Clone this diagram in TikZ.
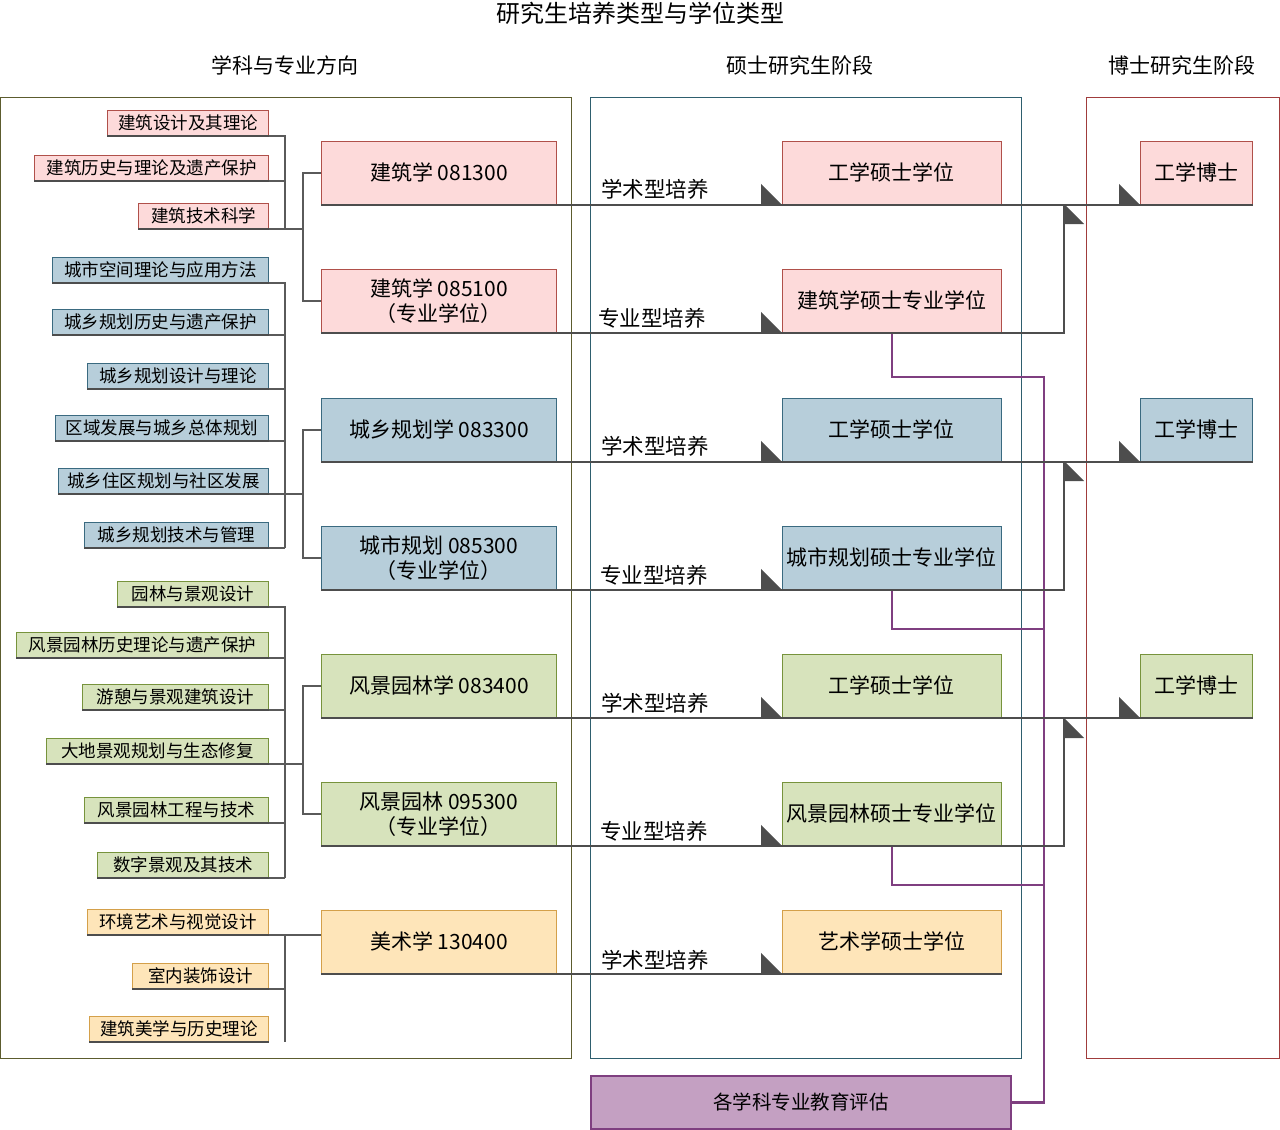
\documentclass[tikz,border=0pt]{standalone}
\usepackage{fontspec}
\setmainfont{Noto Sans CJK SC}
\definecolor{pinkF}{HTML}{FDDADA}
\definecolor{pinkB}{HTML}{B0504A}
\definecolor{blueF}{HTML}{B7CEDA}
\definecolor{blueB}{HTML}{3A6A80}
\definecolor{greenF}{HTML}{D7E3BC}
\definecolor{greenB}{HTML}{77933C}
\definecolor{orangeF}{HTML}{FEE5B9}
\definecolor{orangeB}{HTML}{D4A04A}
\definecolor{purpleF}{HTML}{C4A0C2}
\definecolor{purpleB}{HTML}{7F3F80}
\definecolor{flowgray}{HTML}{4D4D4D}
\definecolor{conngray}{HTML}{5A5A5A}
\definecolor{panelL}{HTML}{5C5C2E}
\definecolor{panelM}{HTML}{2E5E6E}
\definecolor{panelR}{HTML}{A03C3C}
\tikzset{
  sub/.style={rectangle, inner sep=0pt, minimum height=25pt, anchor=south east,
    font=\fontsize{17.5}{19}\selectfont, line width=0.8pt},
  subP/.style={sub, fill=pinkF, draw=pinkB},
  subB/.style={sub, fill=blueF, draw=blueB},
  subG/.style={sub, fill=greenF, draw=greenB},
  subO/.style={sub, fill=orangeF, draw=orangeB},
  mainbox/.style={rectangle, inner sep=2pt, minimum width=235pt, minimum height=63pt,
    anchor=north west, align=center, font=\fontsize{21}{25}\selectfont, line width=0.8pt},
  masterbox/.style={rectangle, inner sep=1pt, minimum width=219pt, minimum height=63pt,
    anchor=north west, align=center, font=\fontsize{21}{25}\selectfont, line width=0.8pt},
  phdbox/.style={rectangle, inner sep=1pt, minimum width=112pt, minimum height=63pt,
    anchor=north west, align=center, font=\fontsize{21}{25}\selectfont, line width=0.8pt},
  boxP/.style={fill=pinkF, draw=pinkB},
  boxB/.style={fill=blueF, draw=blueB},
  boxG/.style={fill=greenF, draw=greenB},
  boxO/.style={fill=orangeF, draw=orangeB},
  lab/.style={font=\fontsize{21.5}{24}\selectfont, inner sep=0pt},
  head/.style={font=\fontsize{21}{24}\selectfont, inner sep=0pt},
  flow/.style={draw=flowgray, line width=2.6pt},
  subedge/.style={draw=flowgray, line width=2.4pt},
  conn/.style={draw=conngray, line width=1.6pt},
  tri/.style={fill=flowgray},
  evalline/.style={draw=purpleB, line width=2.6pt},
}
\begin{document}
\begin{tikzpicture}[x=1pt, y=-1pt]
\useasboundingbox (0,0) rectangle (1280,1130);

% headings
\node[font=\fontsize{24}{26}\selectfont, inner sep=0pt] (title) at (640,13) {研究生培养类型与学位类型};
\node[head] (h1) at (285,65) {学科与专业方向};
\node[head] (h2) at (800,65) {硕士研究生阶段};
\node[head] (h3) at (1182,65) {博士研究生阶段};

% panels
\draw[panelL, line width=1pt] (0.5,97) rectangle (571,1058);
\draw[panelM, line width=1pt] (590,97) rectangle (1021,1058);
\draw[panelR, line width=1pt] (1086,97) rectangle (1279,1058);

% bus coordinates
\coordinate (bus) at (285,0);
\coordinate (br) at (303,0);

% ---------- group A (pink) ----------
\node[subP, minimum width=161pt] (a1) at (269,136) {建筑设计及其理论};
\node[subP, minimum width=234pt] (a2) at (269,181) {建筑历史与理论及遗产保护};
\node[subP, minimum width=130pt] (a3) at (269,229) {建筑技术科学};

\node[mainbox, boxP] (A1) at (321,141) {建筑学 081300};
\node[mainbox, boxP] (A2) at (321,269) {建筑学 085100\\（专业学位）};
\node[masterbox, boxP] (MA1) at (782,141) {工学硕士学位};
\node[masterbox, boxP] (MA2) at (782,269) {建筑学硕士专业学位};
\node[phdbox, boxP] (PA1) at (1140,141) {工学博士};

% ---------- group B (blue) ----------
\node[subB, minimum width=216pt] (b1) at (269,283) {城市空间理论与应用方法};
\node[subB, minimum width=216pt] (b2) at (269,335) {城乡规划历史与遗产保护};
\node[subB, minimum width=181pt] (b3) at (269,389) {城乡规划设计与理论};
\node[subB, minimum width=213pt] (b4) at (269,441) {区域发展与城乡总体规划};
\node[subB, minimum width=210pt] (b5) at (269,494) {城乡住区规划与社区发展};
\node[subB, minimum width=184pt] (b6) at (269,548) {城乡规划技术与管理};

\node[mainbox, boxB] (B1) at (321,398) {城乡规划学 083300};
\node[mainbox, boxB] (B2) at (321,526) {城市规划 085300\\（专业学位）};
\node[masterbox, boxB] (MB1) at (782,398) {工学硕士学位};
\node[masterbox, boxB] (MB2) at (782,526) {城市规划硕士专业学位};
\node[phdbox, boxB] (PB1) at (1140,398) {工学博士};

% ---------- group C (green) ----------
\node[subG, minimum width=151pt] (c1) at (269,607) {园林与景观设计};
\node[subG, minimum width=252pt] (c2) at (269,658) {风景园林历史理论与遗产保护};
\node[subG, minimum width=186pt] (c3) at (269,710) {游憩与景观建筑设计};
\node[subG, minimum width=222pt] (c4) at (269,764) {大地景观规划与生态修复};
\node[subG, minimum width=184pt] (c5) at (269,823) {风景园林工程与技术};
\node[subG, minimum width=171pt] (c6) at (269,878) {数字景观及其技术};

\node[mainbox, boxG] (C1) at (321,654) {风景园林学 083400};
\node[mainbox, boxG] (C2) at (321,782) {风景园林 095300\\（专业学位）};
\node[masterbox, boxG] (MC1) at (782,654) {工学硕士学位};
\node[masterbox, boxG] (MC2) at (782,782) {风景园林硕士专业学位};
\node[phdbox, boxG] (PC1) at (1140,654) {工学博士};

% ---------- group D (orange) ----------
\node[subO, minimum width=181pt] (d1) at (269,935) {环境艺术与视觉设计};
\node[subO, minimum width=136pt] (d2) at (269,989) {室内装饰设计};
\node[subO, minimum width=179pt] (d3) at (269,1042) {建筑美学与历史理论};

\node[mainbox, boxO] (D1) at (321,910) {美术学 130400};
\node[masterbox, boxO] (MD1) at (782,910) {艺术学硕士学位};

% ---------- evaluation box ----------
\node[rectangle, anchor=north west, minimum width=420pt, minimum height=53pt, inner sep=0pt,
  fill=purpleF, draw=purpleB, line width=2pt, font=\fontsize{19.5}{22}\selectfont] (E) at (590,1075) {各学科专业教育评估};

% ---------- training-type labels ----------
\node[lab] (lA1) at (655,189) {学术型培养};
\node[lab] (lA2) at (652,318) {专业型培养};
\node[lab] (lB1) at (655,446) {学术型培养};
\node[lab] (lB2) at (654,575) {专业型培养};
\node[lab] (lC1) at (655,703) {学术型培养};
\node[lab] (lC2) at (654,831) {专业型培养};
\node[lab] (lD1) at (655,960) {学术型培养};

% ---------- left connectors ----------
% group A
\draw[conn] (a1.south east) -- (a1.south east -| bus) -- (a3.south east -| bus);
\draw[conn] (a2.south east) -- (a2.south east -| bus);
\draw[conn] (a3.south east) -- (a3.south east -| br);
\draw[conn] (A1.west) -- (A1.west -| br) -- (A2.west -| br) -- (A2.west);
\foreach \n in {a1,a2,a3} \draw[subedge] (\n.south west) -- (\n.south east);
% group B
\draw[conn] (b1.south east) -- (b1.south east -| bus) -- (b6.south east -| bus);
\foreach \n in {b2,b3,b4,b6} \draw[conn] (\n.south east) -- (\n.south east -| bus);
\draw[conn] (b5.south east) -- (b5.south east -| br);
\draw[conn] (B1.west) -- (B1.west -| br) -- (B2.west -| br) -- (B2.west);
\foreach \n in {b1,b2,b3,b4,b5,b6} \draw[subedge] (\n.south west) -- (\n.south east);
% group C
\draw[conn] (c1.south east) -- (c1.south east -| bus) -- (c6.south east -| bus);
\foreach \n in {c2,c3,c5,c6} \draw[conn] (\n.south east) -- (\n.south east -| bus);
\draw[conn] (c4.south east) -- (c4.south east -| br);
\draw[conn] (C1.west) -- (C1.west -| br) -- (C2.west -| br) -- (C2.west);
\foreach \n in {c1,c2,c3,c4,c5,c6} \draw[subedge] (\n.south west) -- (\n.south east);
% group D
\draw[conn] (d1.south east) -- (d1.south east -| bus) -- (d3.south east -| bus);
\draw[conn] (d2.south east) -- (d2.south east -| bus);
\draw[conn] (d1.south east) -- (d1.south east -| D1.west);
\foreach \n in {d1,d2,d3} \draw[subedge] (\n.south west) -- (\n.south east);

% ---------- evaluation connectors ----------
\coordinate (eb1) at (1044,377);
\coordinate (eb2) at (1044,629);
\coordinate (eb3) at (1044,885);
\draw[evalline] (MA2.south) |- (eb1) -- (eb1 |- E.east) -- (E.east);
\draw[evalline] (MB2.south) |- (eb2);
\draw[evalline] (MC2.south) |- (eb3);

% ---------- flow lines ----------
\coordinate (jA) at (1064,204);
\coordinate (jB) at (1064,461);
\coordinate (jC) at (1064,718);
\draw[flow] (A1.south west) -- (PA1.south east);
\draw[flow] (A2.south west) -- (A2.south west -| jA) -- (jA);
\draw[flow] (B1.south west) -- (PB1.south east);
\draw[flow] (B2.south west) -- (B2.south west -| jB) -- (jB);
\draw[flow] (C1.south west) -- (PC1.south east);
\draw[flow] (C2.south west) -- (C2.south west -| jC) -- (jC);
\draw[flow] (D1.south west) -- (MD1.south east);

% ---------- arrow triangles ----------
\foreach \n in {MA1,MA2,MB1,MB2,MC1,MC2,MD1,PA1,PB1,PC1}
  \fill[tri] (\n.south west) -- ++(-21,0) -- ++(0,-21) -- cycle;
\foreach \j in {jA,jB,jC}
  \fill[tri] (\j) -- ++(0,20) -- ++(20,0) -- cycle;
\end{tikzpicture}
\end{document}
